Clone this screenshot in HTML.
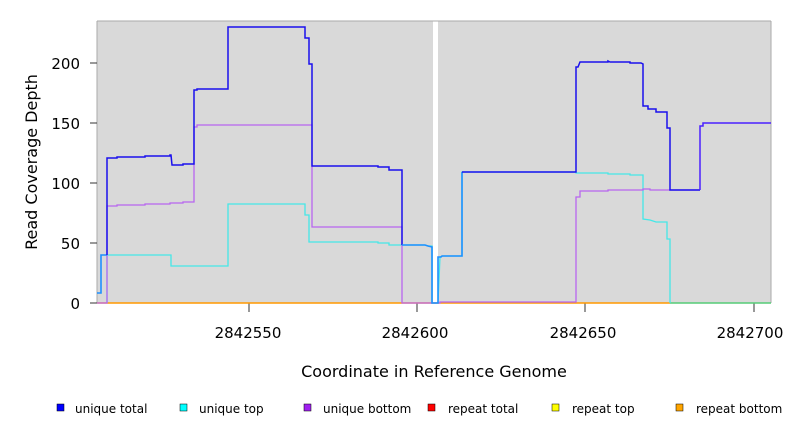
<!DOCTYPE html>
<html><head><meta charset="utf-8"><style>
html,body{margin:0;padding:0;background:#fff;}
svg{display:block;font-family:"DejaVu Sans","Liberation Sans",sans-serif;}
</style></head><body>
<svg width="792" height="432" viewBox="0 0 792 432" xmlns="http://www.w3.org/2000/svg">
<rect x="97" y="21" width="674" height="282" fill="#d9d9d9"/>
<rect x="433" y="21" width="5" height="282" fill="#ffffff"/>
<line x1="97" y1="21" x2="771" y2="21" stroke="#aaa" stroke-width="1"/>
<line x1="97" y1="21" x2="97" y2="303" stroke="#aaa"/>
<line x1="771" y1="21" x2="771" y2="303" stroke="#aaa"/>
<g stroke="#333" stroke-width="1">
<line x1="90" y1="303" x2="97" y2="303"/><line x1="90" y1="243" x2="97" y2="243"/>
<line x1="90" y1="183" x2="97" y2="183"/><line x1="90" y1="123" x2="97" y2="123"/>
<line x1="90" y1="63" x2="97" y2="63"/>
<line x1="249" y1="303" x2="249" y2="312"/><line x1="417" y1="303" x2="417" y2="312"/>
<line x1="585" y1="303" x2="585" y2="312"/><line x1="754" y1="303" x2="754" y2="312"/>
</g>
<g font-size="15" fill="#000" text-anchor="end">
<text x="80" y="309">0</text><text x="80" y="249">50</text><text x="80" y="189">100</text>
<text x="80" y="129">150</text><text x="80" y="69">200</text>
</g>
<g font-size="15" fill="#000" text-anchor="middle">
<text x="248" y="338">2842550</text><text x="415" y="338">2842600</text>
<text x="583" y="338">2842650</text><text x="750" y="338">2842700</text>
<text x="434" y="377" font-size="16">Coordinate in Reference Genome</text>
<text transform="translate(37,162) rotate(-90)" font-size="16">Read Coverage Depth</text>
</g>
<line x1="97" y1="303" x2="670" y2="303" stroke="#ff9900" stroke-width="1.5"/>
<line x1="670" y1="303" x2="771" y2="303" stroke="#55cc77" stroke-width="1.5"/>
<polyline fill="none" stroke="#44e8e8" stroke-width="1.3" points="107,303 107,255 171,255 171,266 228,266 228,204 305,204 305,215 309,215 309,242 378,242 378,243 389,243 389,245 402,245 402,245 425,245 428,246 432,246 432,303 438,303 440,257 442,256 462,256 462,172 576,172 576,173 608,173 608,174 630,174 630,175 643,175 643,219 650,220 656,222 667,222 667,239 670,239 670,303"/>
<polyline fill="none" stroke="#b866f0" stroke-width="1.3" points="97,303 107,303 107,206 117,206 117,205 145,205 145,204 170,204 170,203 183,203 183,202 194,202 194,127 197,127 197,125 312,125 312,227 402,227 402,303 440,303 440,302 576,302 576,197 580,197 580,191 608,191 608,190 643,190 643,189 650,189 650,190 670,190 700,190"/>
<polyline fill="none" stroke="#1e90ff" stroke-width="1.6" points="97,293 101,293 101,255 107,255 107,255"/>
<polyline fill="none" stroke="#1a10ee" stroke-width="1.5" points="107,255 107,158 117,158 117,157 145,157 145,156 170,156 170,155 171,155 172,165 183,165 183,164 194,164 194,90 197,90 197,89 228,89 228,27 305,27 305,38 309,38 309,64 312,64 312,166 378,166 378,167 389,167 389,170 402,170 402,245"/>
<polyline fill="none" stroke="#1e90ff" stroke-width="1.6" points="402,245 425,245 428,246 432,247 432,303 438,303 438,257 441,257 442,256 462,256 462,172"/>
<polyline fill="none" stroke="#1a10ee" stroke-width="1.5" points="462,172 576,172 576,67 578,67 580,62 608,62 608,61 610,62 630,62 630,63 641,63 643,64 643,106 648,106 648,109 656,109 656,112 667,112 667,128 670,128 670,190 700,190"/>
<polyline fill="none" stroke="#4a20ff" stroke-width="1.5" points="700,190 700,126 703,126 703,123 771,123"/>
<g font-size="12" fill="#000">
<rect x="57" y="404" width="7" height="7" fill="#0000ff" stroke="#000" stroke-width="0.5"/><text x="75" y="413">unique total</text>
<rect x="180" y="404" width="7" height="7" fill="#00ffff" stroke="#000" stroke-width="0.5"/><text x="199" y="413">unique top</text>
<rect x="304" y="404" width="7" height="7" fill="#a020f0" stroke="#000" stroke-width="0.5"/><text x="323" y="413">unique bottom</text>
<rect x="428" y="404" width="7" height="7" fill="#ff0000" stroke="#000" stroke-width="0.5"/><text x="448" y="413">repeat total</text>
<rect x="552" y="404" width="7" height="7" fill="#ffff00" stroke="#000" stroke-width="0.5"/><text x="572" y="413">repeat top</text>
<rect x="676" y="404" width="7" height="7" fill="#ffa500" stroke="#000" stroke-width="0.5"/><text x="696" y="413">repeat bottom</text>
</g>
</svg>
</body></html>
